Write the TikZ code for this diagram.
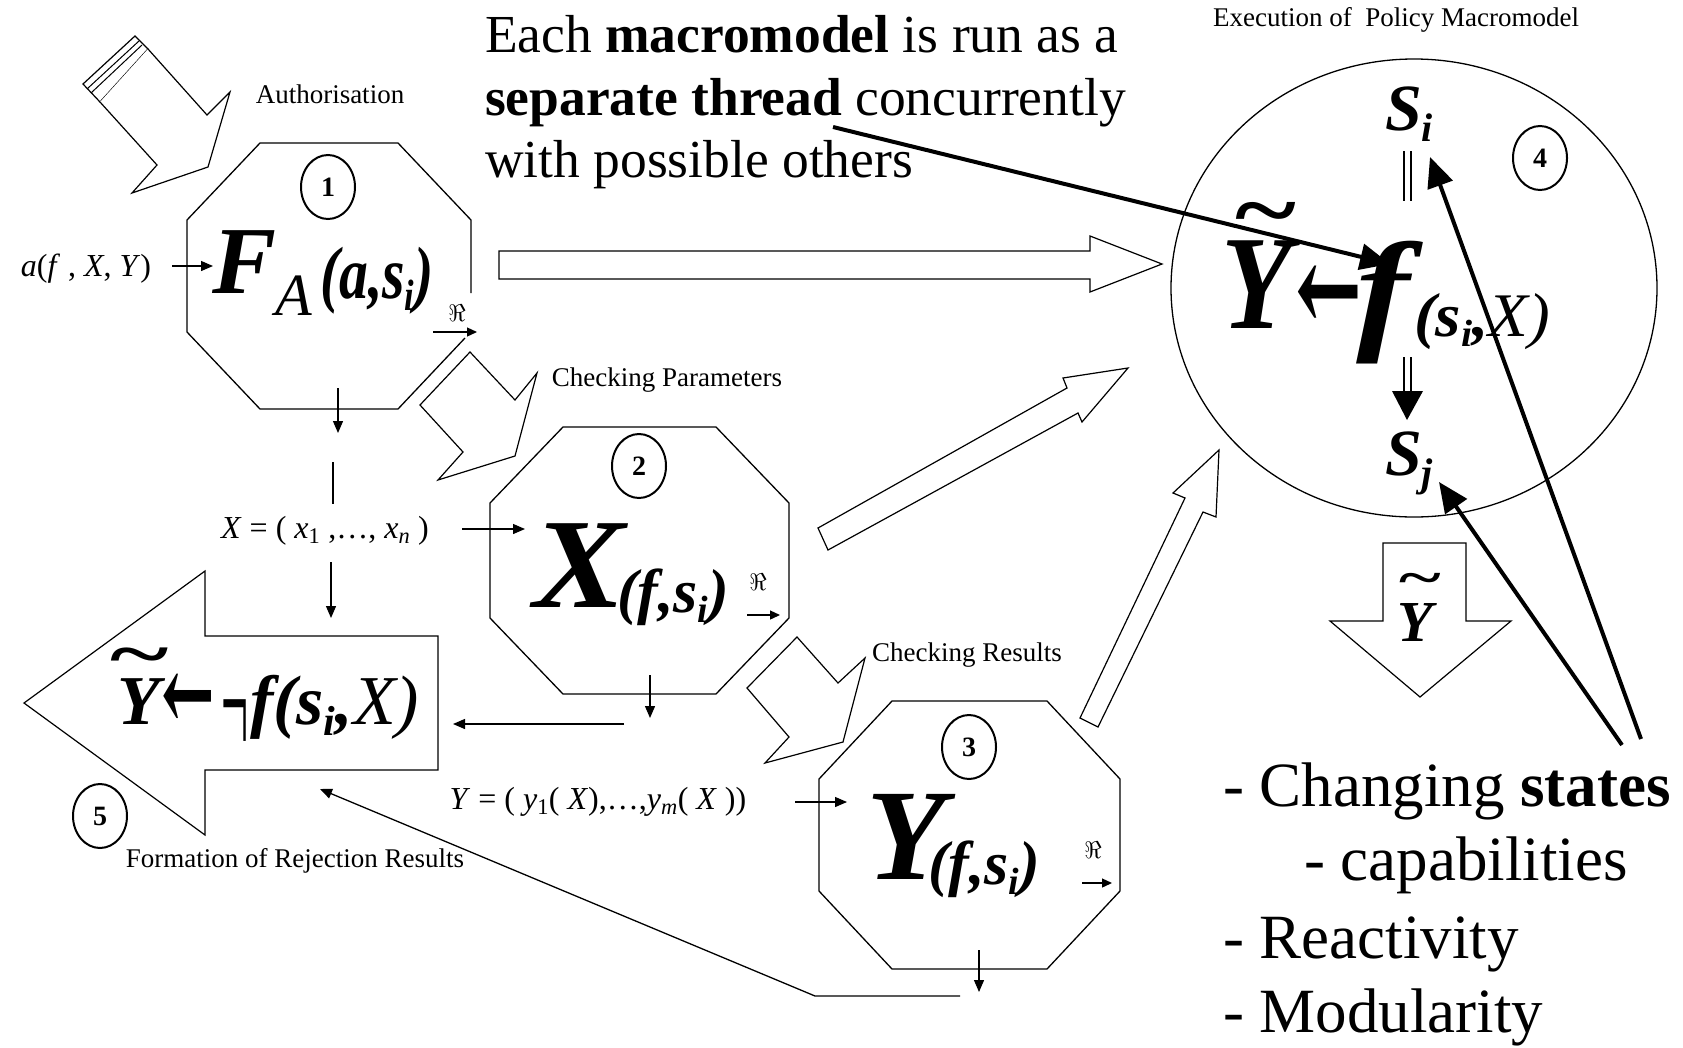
\RequirePackage{fix-cm}
\documentclass[tikz,border=0pt]{standalone}
\usepackage{fontspec}
\setmainfont{Liberation Serif}
\newfontfamily\arrfont{DejaVu Serif}
\usepackage{graphicx}
\usetikzlibrary{arrows.meta,shapes.geometric}
\newcommand\fsz[1]{\fontsize{#1}{#1}\selectfont}
\newcommand\bfit{\bfseries\itshape}
\newcommand\putat[3]{\makebox[0pt][l]{\hspace*{#1}\raisebox{#2}{#3}}}
\newcommand\octo[6]{\draw[shapeline] ({#1+#5},#2) -- ({#3-#5},#2) -- (#3,{#2+#6}) -- (#3,{#4-#6}) -- ({#3-#5},#4) -- ({#1+#5},#4) -- (#1,{#4-#6}) -- (#1,{#2+#6}) -- cycle;}
\begin{document}
\begin{tikzpicture}[x=1pt,y=-1pt,
  every node/.style={inner sep=0pt, outer sep=0pt},
  shapeline/.style={line width=1.3pt},
  hollow/.style={line width=1.2pt, line join=miter, fill=white},
  conn/.style={line width=1.3pt, -{Triangle[length=12pt,width=10pt]}},
  rconn/.style={line width=1.3pt, -{Triangle[length=10pt,width=9pt]}},
  plainline/.style={line width=1.3pt},
  thick arrow/.style={line width=4pt, -{Triangle[length=30pt,width=26pt]}},
  numc/.style={draw, ellipse, line width=2pt, minimum width=54pt, minimum height=64pt, font=\fsz{28}\bfseries},
  lab/.style={font=\fsz{27}},
  formlab/.style={font=\fsz{32}},
  bigtxt/.style={anchor=base west, font=\fsz{53.5}},
  listtxt/.style={anchor=base west, font=\fsz{63}},
  formula/.style={anchor=base west},
]
\useasboundingbox (0,0) rectangle (1683,1047);

% ---------- octagons ----------
\draw[shapeline] (471,293) -- (471,220) -- (398,143) -- (260,143) -- (187,220) -- (187,332) -- (260,409) -- (398,409) -- (465,338);
\octo{490}{427}{789}{694}{73}{76}
\octo{819}{701}{1120}{969}{73}{78}

% ---------- big circle 4 ----------
\node[draw, ellipse, line width=1.3pt, minimum width=486pt, minimum height=458pt] (c4) at (1414,288) {};

% ---------- hollow arrows ----------
% Authorisation
\draw[hollow] (83,84) -- (135,36) -- (148,49) -- (100,102) -- cycle;
\draw[line width=1pt] (87,89) -- (139,41) (91,93) -- (142,45);
\draw[hollow] (100,102) -- (157,165) -- (132,193) -- (208,167) -- (230,92) -- (207,115) -- (148,49);
% Checking parameters
\draw[hollow] (470,352) -- (515,400) -- (537,373) -- (515,456) -- (438,480) -- (463,452) -- (420,405) -- cycle;
% Checking results
\draw[hollow] (797,637) -- (838,683) -- (865,658) -- (843,742) -- (765,763) -- (789,737) -- (747,688) -- cycle;
% 1 -> 4
\draw[hollow] (499,251) -- (1090,251) -- (1090,236) -- (1162,264) -- (1090,292) -- (1090,279) -- (499,279) -- cycle;
% 2 -> 4
\draw[hollow] (818,528) -- (1067,388) -- (1063,378) -- (1128,368) -- (1082,422) -- (1078,413) -- (828,550) -- cycle;
% 3 -> 4
\draw[hollow] (1080,718) -- (1185,498) -- (1173,493) -- (1219,450) -- (1216,517) -- (1203,512) -- (1098,727) -- cycle;
% 5 big left arrow
\draw[hollow] (24,703) -- (205,571) -- (205,636) -- (438,636) -- (438,770) -- (205,770) -- (205,835) -- cycle;
% output arrow
\draw[hollow] (1383,543) -- (1466,543) -- (1466,621) -- (1511,621) -- (1420,697) -- (1330,621) -- (1383,621) -- cycle;

% ---------- circled numbers ----------
\node[numc] (n1) at (328,187) {1};
\node[numc] (n2) at (639,466) {2};
\node[numc] (n3) at (969,747) {3};
\node[numc] (n4) at (1540,158) {4};
\node[numc] (n5) at (100,816) {5};

% ---------- small labels ----------
\node[lab] (auth) at (330,94) {Authorisation};
\node[lab] (chkp) at (667,380) {Checking Parameters};
\node[lab] (chkr) at (967,655) {Checking Results};
\node[lab] (exec) at (1396,20) {Execution of\ \ Policy Macromodel};
\node[lab] (form) at (295,861) {Formation of Rejection Results};

\node[formlab] (afxy) at (86,269) {\textit{a}(\textit{f} , \textit{X}, \textit{Y})};
\node[formlab] (xdef) at (325,531) {\textit{X} = ( \textit{x}\textsubscript{1} ,…, \textit{x}\textsubscript{\textit{n}} )};
\node[formlab] (ydef) at (598,802) {\textit{Y} = ( \textit{y}\textsubscript{1}( \textit{X}),…,\textit{y}\textsubscript{\textit{m}}( \textit{X} ))};

\node[font=\fsz{24}] (r1) at (457,313) {$\Re$};
\node[font=\fsz{24}] (r2) at (758,582) {$\Re$};
\node[font=\fsz{24}] (r3) at (1093,850) {$\Re$};

% ---------- big formulas ----------
% node 1
\node[formula] (F) at (212,293) {\putat{0pt}{0pt}{\fsz{96}\bfit F}\putat{63pt}{-22pt}{\fsz{60}\itshape A}\putat{108pt}{-5pt}{\fsz{74}\bfit\scalebox{0.78}[1]{(a,s\raisebox{-12pt}{\fsz{44}i})}}\hspace*{222pt}};
% node 2
\node[formula] (X) at (533,607) {\putat{0pt}{0pt}{\fsz{128}\bfit\scalebox{1.08}[1]{X}}\putat{84pt}{-5pt}{\fsz{62}\bfit (f,s\raisebox{-10pt}{\fsz{38}i})}\hspace*{192pt}};
% node 3
\node[formula] (Y) at (866,879) {\putat{0pt}{0pt}{\fsz{130}\bfit Y}\putat{62pt}{-5pt}{\fsz{62}\bfit (f,s\raisebox{-10pt}{\fsz{38}i})}\hspace*{171pt}};
% node 5
\node[formula] (rY) at (117,724) {\putat{-7pt}{47pt}{\fsz{70}\bfseries\scalebox{1.6}[1]{\textasciitilde}}\fsz{70}\bfit Y};
\node[font=\fsz{64}\arrfont\bfseries] (rA) at (188,703) {\scalebox{1}[1.7]{←}};
\node[anchor=base west, font=\fsz{60}] (rN) at (221,757) {\scalebox{0.8}[2.7]{¬}};
\node[formula, font=\fsz{70}\bfit] (rF) at (250,724) {f(s\raisebox{-11pt}{\fsz{42}i},\mdseries X)};
% node 4
\node[formula] (cY) at (1221,328) {\putat{14pt}{88pt}{\fsz{90}\bfseries\scalebox{1.3}[1]{\textasciitilde}}\fsz{134}\bfit\scalebox{0.86}[1]{Y}};
\node[font=\fsz{80}\arrfont\bfseries] (cArr) at (1329,300) {\scalebox{1}[1.6]{←}};
\node[formula] (cf) at (1356,335) {\putat{0pt}{0pt}{\fsz{134}\bfit\scalebox{1.2}[1]{f}}\putat{58pt}{-1pt}{\fsz{62}\bfit\scalebox{1.05}[1]{(s\raisebox{-10pt}{\fsz{38}i},\mdseries X)}}\hspace*{190pt}};
\node[formula, font=\fsz{66}\bfit] (Si) at (1385,130) {S\raisebox{-11pt}{\fsz{40}i}};
\node[formula, font=\fsz{66}\bfit] (Sj) at (1385,475) {S\raisebox{-11pt}{\fsz{40}j}};
% output arrow text
\node[formula] (oY) at (1397,641) {\putat{2pt}{47pt}{\fsz{50}\bfseries\scalebox{1.6}[1]{\textasciitilde}}\fsz{58}\bfit Y};

% ---------- text blocks ----------
\node[bigtxt] (e1) at (485,52) {Each \textbf{macromodel} is run as a};
\node[bigtxt] (e2) at (485,115) {\textbf{separate thread} concurrently};
\node[bigtxt] (e3) at (485,177) {with possible others};

\node[listtxt] (t1) at (1223,806) {- Changing \textbf{states}};
\node[listtxt] (t2) at (1304,880) {- capabilities};
\node[listtxt] (t3) at (1223,958) {- Reactivity};
\node[listtxt] (t4) at (1223,1032) {- Modularity};

% ---------- coordinates for connectors ----------
\coordinate (a1s) at (172,266); \coordinate (a1e) at (213,266);
\coordinate (r1s) at (433,332); \coordinate (r1e) at (477,332);
\coordinate (r2s) at (747,615); \coordinate (r2e) at (780,615);
\coordinate (r3s) at (1082,883); \coordinate (r3e) at (1112,883);
\coordinate (d1s) at (338,388); \coordinate (d1e) at (338,433);
\coordinate (v1s) at (333,462); \coordinate (v1e) at (333,504);
\coordinate (d2s) at (331,562); \coordinate (d2e) at (331,618);
\coordinate (x2s) at (462,529); \coordinate (x2e) at (525,529);
\coordinate (d3s) at (650,675); \coordinate (d3e) at (650,718);
\coordinate (l5s) at (624,724); \coordinate (l5e) at (453,724);
\coordinate (y3s) at (795,802); \coordinate (y3e) at (847,802);
\coordinate (d4s) at (979,950); \coordinate (d4e) at (979,992);
\coordinate (b1) at (960,996); \coordinate (b2) at (815,996); \coordinate (b3) at (320,789);
\coordinate (sa1) at (1404,151); \coordinate (sa2) at (1404,201);
\coordinate (sb1) at (1411,151); \coordinate (sb2) at (1411,201);
\coordinate (sc1) at (1404,357); \coordinate (sc2) at (1404,393);
\coordinate (sd1) at (1411,357); \coordinate (sd2) at (1411,393);
\coordinate (tri1) at (1392,391); \coordinate (tri2) at (1423,391); \coordinate (tri3) at (1407,420);
\coordinate (thrS) at (833,127); \coordinate (thrE) at (1390,264);
\coordinate (stA) at (1641,739); \coordinate (siE) at (1430,157);
\coordinate (stB) at (1622,745); \coordinate (sjE) at (1439,482);

\draw[conn] (a1s) -- (a1e);
\draw[rconn] (r1s) -- (r1e);
\draw[rconn] (r2s) -- (r2e);
\draw[rconn] (r3s) -- (r3e);
\draw[conn] (d1s) -- (d1e);
\draw[plainline] (v1s) -- (v1e);
\draw[conn] (d2s) -- (d2e);
\draw[conn] (x2s) -- (x2e);
\draw[conn] (d3s) -- (d3e);
\draw[conn] (l5s) -- (l5e);
\draw[conn] (y3s) -- (y3e);
\draw[conn] (d4s) -- (d4e);
\draw[plainline, -{Triangle[length=12pt,width=10pt]}] (b1) -- (b2) -- (b3);
\draw[line width=1.2pt] (sa1) -- (sa2) (sb1) -- (sb2) (sc1) -- (sc2) (sd1) -- (sd2);
\fill (tri1) -- (tri2) -- (tri3) -- cycle;

\draw[thick arrow] (thrS) -- (thrE);
\draw[thick arrow] (stA) -- (siE);
\draw[thick arrow] (stB) -- (sjE);
\end{tikzpicture}
\end{document}
